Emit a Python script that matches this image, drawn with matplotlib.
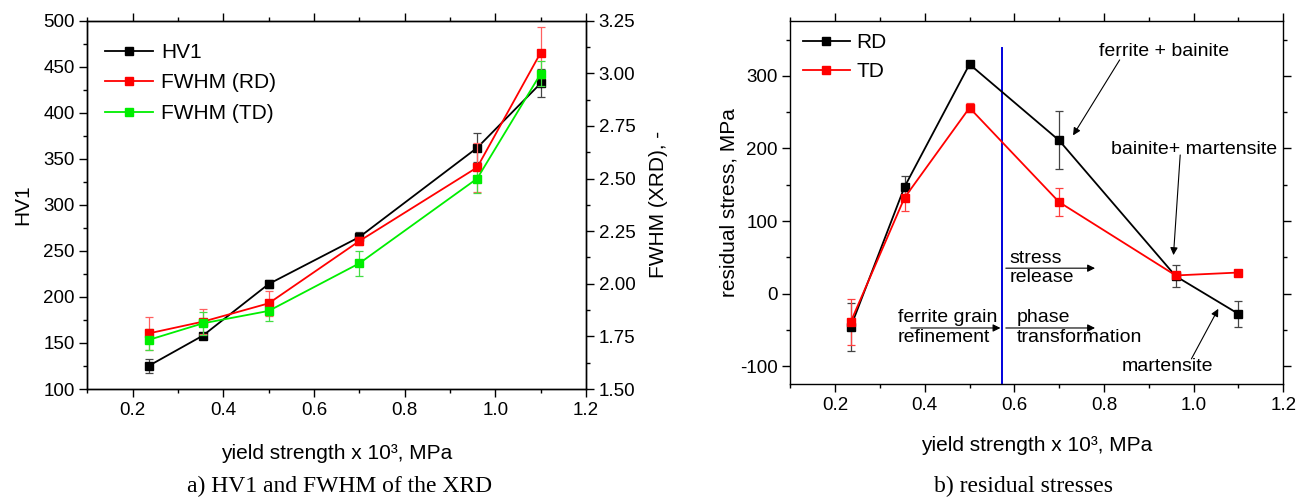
import matplotlib
matplotlib.use('Agg')
import matplotlib.pyplot as plt
from matplotlib.ticker import MultipleLocator, FormatStrFormatter

# 数値データ
ys = [0.235, 0.355, 0.5, 0.7, 0.96, 1.1]

hv1 = [125, 158, 214, 265, 362, 432]
hv1_err = [8, 3, 4, 5, 16, 15]

fwhm_rd = [1.764, 1.82, 1.907, 2.203, 2.553, 3.098]
fwhm_rd_err = [0.08, 0.06, 0.06, 0.02, 0.115, 0.12]
fwhm_td = [1.733, 1.812, 1.871, 2.097, 2.50, 2.998]
fwhm_td_err = [0.05, 0.055, 0.05, 0.06, 0.07, 0.06]

rs_rd = [-46, 147, 316, 211, 24, -28]
rs_rd_err = [33, 15, 5, 40, 15, 18]
rs_td = [-39, 132, 256, 126, 25, 29]
rs_td_err = [32, 18, 6, 19, 5, 3]

boundary = 0.5735

plt.rcParams['font.family'] = ['Liberation Sans', 'DejaVu Sans']
plt.rcParams['axes.unicode_minus'] = False
plt.rcParams['axes.linewidth'] = 1.0

fig = plt.figure(figsize=(13, 4.97), dpi=100)

TICK = 13.5
LAB = 15

def style_ticks(ax, mirror=False):
	ax.tick_params(which='major', direction='out', length=5.8, width=1, labelsize=TICK, pad=3.3)
	ax.tick_params(which='minor', direction='out', length=2.9, width=1)
	ax.xaxis.set_major_locator(MultipleLocator(0.2))
	ax.xaxis.set_minor_locator(MultipleLocator(0.1))
	ax.xaxis.set_major_formatter(FormatStrFormatter('%.1f'))
	ax.tick_params(axis='x', which='both', top=True)
	if mirror:
		ax.tick_params(axis='y', which='both', right=True)

mk = dict(marker='s', markersize=5.5, linewidth=1.3, capsize=3, elinewidth=0.9, capthick=0.9)

#------------------------------------
# a) HV1 and FWHM
ax = fig.add_axes([87.3/1300, 108/497, 498.7/1300, 368.3/497])
ax2 = ax.twinx()

h1 = ax.errorbar(ys, hv1, yerr=hv1_err, color='black', ecolor='#444444', **mk)
h2 = ax2.errorbar(ys, fwhm_rd, yerr=fwhm_rd_err, color='#ff0000', ecolor='#ff6060', **mk)
h3 = ax2.errorbar(ys, fwhm_td, yerr=fwhm_td_err, color='#00ee00', ecolor='#44dd44', **mk)

ax.set_xlim(0.1, 1.2)
ax.set_ylim(100, 500)
ax2.set_ylim(1.5, 3.25)
style_ticks(ax)
ax.yaxis.set_major_locator(MultipleLocator(50))
ax.yaxis.set_minor_locator(MultipleLocator(25))
ax2.yaxis.set_major_locator(MultipleLocator(0.25))
ax2.yaxis.set_minor_locator(MultipleLocator(0.125))
ax2.tick_params(which='major', direction='out', length=5.8, width=1, labelsize=TICK, pad=3.3)
ax2.tick_params(which='minor', direction='out', length=2.9, width=1)
ax2.yaxis.set_major_formatter(FormatStrFormatter('%.2f'))

ax.set_ylabel('HV1', fontsize=LAB, labelpad=8)
ax2.set_ylabel('FWHM (XRD), -', fontsize=LAB, labelpad=9.5)
ax.set_xlabel('yield strength x 10³, MPa', fontsize=LAB, labelpad=18)

ax2.legend([h1[0], h2[0], h3[0]], ['HV1', 'FWHM (RD)', 'FWHM (TD)'], loc='upper left',
	frameon=False, fontsize=LAB, handlelength=2.3, handletextpad=0.4, labelspacing=0.56,
	bbox_to_anchor=(0.0355, 0.94), borderaxespad=0, borderpad=0)

#------------------------------------
# b) residual stresses
bx = fig.add_axes([790.2/1300, 112.7/497, 493.1/1300, 363.6/497])
r1 = bx.errorbar(ys, rs_rd, yerr=rs_rd_err, color='black', ecolor='#444444', **mk)
r2 = bx.errorbar(ys, rs_td, yerr=rs_td_err, color='#ff0000', ecolor='#ff4040', **mk)
bx.plot([boundary, boundary], [-122.8, 338], color='#0000dd', linewidth=1.4)

bx.set_xlim(0.1, 1.2)
bx.set_ylim(-125, 376)
style_ticks(bx, mirror=True)
bx.set_yticks([-100, 0, 100, 200, 300])
bx.yaxis.set_minor_locator(MultipleLocator(50))
bx.set_ylabel('residual stress, MPa', fontsize=LAB, labelpad=1)
bx.set_xlabel('yield strength x 10³, MPa', fontsize=LAB, labelpad=16)
bx.legend([r1[0], r2[0]], ['RD', 'TD'], loc='upper left', frameon=False, fontsize=LAB,
	handlelength=2.3, handletextpad=0.3, labelspacing=0.45,
	bbox_to_anchor=(0.025, 0.965), borderaxespad=0, borderpad=0)

arr = dict(arrowstyle='-|>', color='black', linewidth=0.8, mutation_scale=11, shrinkA=0, shrinkB=0)
ANN = 14

bx.text(0.934, 333, 'ferrite + bainite', ha='center', va='center', fontsize=ANN)
bx.annotate('', xy=(0.731, 218), xytext=(0.835, 322), arrowprops=arr)
bx.text(1.001, 198, 'bainite+ martensite', ha='center', va='center', fontsize=ANN)
bx.annotate('', xy=(0.955, 53), xytext=(0.970, 191), arrowprops=arr)
bx.text(0.942, -100, 'martensite', ha='center', va='center', fontsize=ANN)
bx.annotate('', xy=(1.055, -21), xytext=(0.995, -90), arrowprops=arr)

bx.text(0.590, 35, 'stress\nrelease', ha='left', va='center', fontsize=ANN, linespacing=1.2)
bx.annotate('', xy=(0.780, 35), xytext=(0.581, 35), arrowprops=arr)
bx.text(0.340, -47, 'ferrite grain\nrefinement', ha='left', va='center', fontsize=ANN, linespacing=1.2)
bx.annotate('', xy=(0.569, -47.4), xytext=(0.369, -47.4), arrowprops=arr)
bx.text(0.605, -47, 'phase\ntransformation', ha='left', va='center', fontsize=ANN, linespacing=1.2)
bx.annotate('', xy=(0.780, -47.4), xytext=(0.581, -47.4), arrowprops=arr)

#------------------------------------
# captions
fig.text(340/1300, 1 - 486/497, 'a) HV1 and FWHM of the XRD', ha='center', va='center',
	family=['Liberation Serif', 'DejaVu Serif'], fontsize=17)
fig.text(1023/1300, 1 - 486/497, 'b) residual stresses', ha='center', va='center',
	family=['Liberation Serif', 'DejaVu Serif'], fontsize=17)

fig.savefig('out.png', dpi=100)
